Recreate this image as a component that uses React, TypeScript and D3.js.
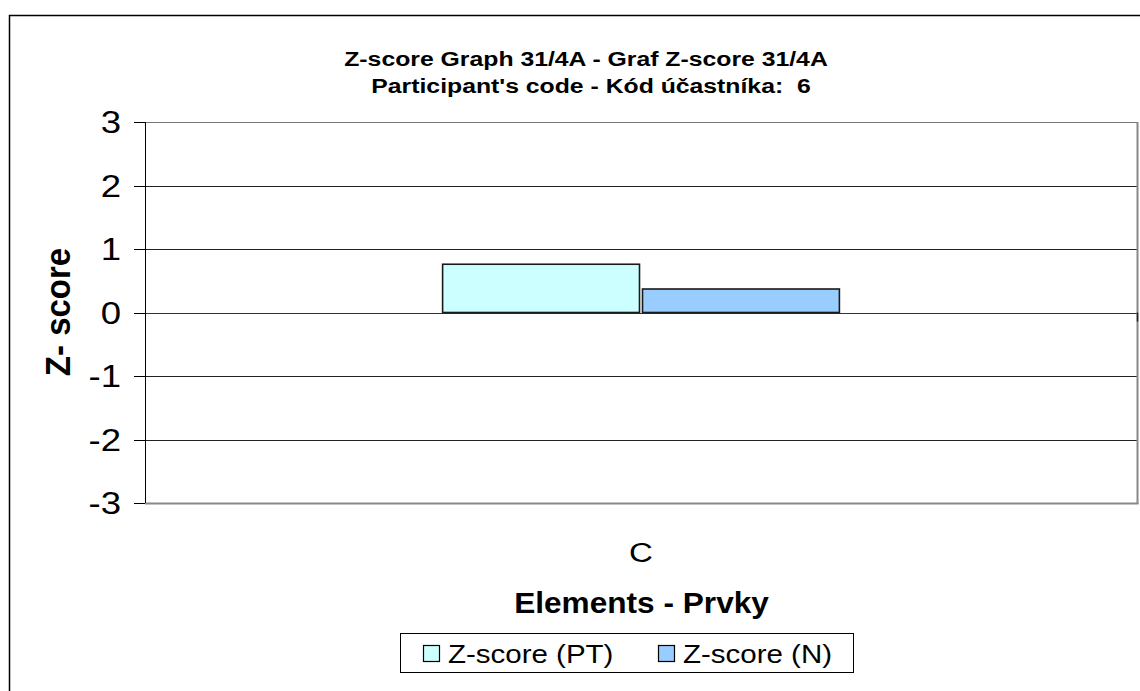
import React from "react";
import * as d3 from "d3";

const categories = ["C"];
const seriesNames = ["Z-score (PT)", "Z-score (N)"];
const valuesPT = [0.76];
const valuesN = [0.37];
const yTicks = [-3, -2, -1, 0, 1, 2, 3];
const seriesColors = ["#CCFFFF", "#99CCFF"];

const W = 1140;
const H = 691;
const plot = { left: 145, right: 1137, top: 122, bottom: 503 };
const FONT = "'Liberation Sans', Arial, sans-serif";
const SX = 1.18; // horizontal stretch of the text, as in the reference

function T(props: { x: number; y: number; size: number; bold?: boolean; anchor?: string; sx?: number; children: React.ReactNode }) {
  const { x, y, size, bold, anchor = "start", sx = SX, children } = props;
  return (
    <text transform={`translate(${x},${y}) scale(${sx},1)`} fontSize={size} fontWeight={bold ? "bold" : "normal"} textAnchor={anchor} style={{ whiteSpace: "pre" }}>
      {children}
    </text>
  );
}

export default function App() {
  const y = d3.scaleLinear().domain([-3, 3]).range([plot.bottom, plot.top]);
  const x0 = d3.scaleBand().domain(categories).range([plot.left, plot.right]).padding(0);
  // Excel gap width ~300%
  const gapWidth = 3.0;
  const groupW = (x0.bandwidth() * 2) / (2 + gapWidth);
  const x1 = d3.scaleBand().domain(seriesNames).range([0, groupW]).paddingInner(0.015);
  const data = [valuesPT, valuesN];

  return (
    <svg width={W} height={H} style={{ position: "absolute", left: 0, top: 0, background: "#fff" }} fontFamily={FONT}>
      {/* outer chart border */}
      <path d={`M9.5,${H} V15.5 H${W}`} fill="none" stroke="#000" strokeWidth={1.5} />

      {/* titles */}
      <T x={586} y={66} size={21} bold anchor="middle">Z-score Graph 31/4A - Graf Z-score 31/4A</T>
      <T x={591} y={93} size={21} bold anchor="middle">{"Participant's code - Kód účastníka:  6"}</T>

      {/* gridlines */}
      {yTicks.map((t) => (
        <line key={"g" + t} x1={plot.left} x2={plot.right} y1={Math.round(y(t)) + 0.5} y2={Math.round(y(t)) + 0.5} stroke={t === 0 ? "#333" : "#222"} strokeWidth={1} />
      ))}

      {/* plot area border (gray) */}
      <line x1={plot.right + 0.5} x2={plot.right + 0.5} y1={plot.top} y2={plot.bottom + 1} stroke="#888" strokeWidth={2} />
      <line x1={plot.left} x2={plot.right + 1.5} y1={plot.bottom + 0.5} y2={plot.bottom + 0.5} stroke="#888" strokeWidth={2} />
      <line x1={plot.left} x2={plot.right} y1={plot.top + 0.5} y2={plot.top + 0.5} stroke="#777" strokeWidth={1} />

      {/* bars */}
      {categories.map((c, ci) => {
        const gx = (x0(c) as number) + (x0.bandwidth() - groupW) / 2;
        return seriesNames.map((s, si) => {
          const v = data[si][ci];
          const yt = y(Math.max(0, v));
          const yb = y(Math.min(0, v));
          return (
            <rect key={c + s} x={gx + (x1(s) as number)} y={yt} width={x1.bandwidth()} height={yb - yt} fill={seriesColors[si]} stroke="#1a1a1a" strokeWidth={1.6} />
          );
        });
      })}

      {/* y axis */}
      <line x1={plot.left + 0.5} x2={plot.left + 0.5} y1={plot.top} y2={plot.bottom} stroke="#000" strokeWidth={1} />
      {yTicks.map((t) => (
        <g key={"t" + t}>
          <line x1={plot.left - 11} x2={plot.left} y1={Math.round(y(t)) + 0.5} y2={Math.round(y(t)) + 0.5} stroke="#000" />
          <T x={121} y={y(t) + 11} size={31} anchor="end">{String(t)}</T>
        </g>
      ))}
      {/* category axis end tick */}
      <line x1={plot.right + 0.5} x2={plot.right + 0.5} y1={y(0)} y2={y(0) + 9} stroke="#222" strokeWidth={1.5} />

      {/* category labels */}
      {categories.map((c) => (
        <T key={c} x={(x0(c) as number) + x0.bandwidth() / 2} y={562} size={28} anchor="middle">{c}</T>
      ))}

      {/* axis titles */}
      <T x={641.5} y={613} size={29} bold anchor="middle" sx={1.09}>Elements - Prvky</T>
      <text transform={`translate(70,312) rotate(-90) scale(1.1,1.16)`} textAnchor="middle" fontSize={30} fontWeight="bold">
        Z- score
      </text>

      {/* legend */}
      <rect x={400.5} y={633.5} width={453} height={39} fill="#fff" stroke="#000" strokeWidth={1} />
      {seriesNames.map((s, i) => {
        const sx = [423, 658][i];
        return (
          <g key={"l" + s}>
            <rect x={sx + 0.5} y={645.5} width={16} height={16} fill={seriesColors[i]} stroke="#000" strokeWidth={1.2} />
            <T x={sx + 25} y={663} size={25}>{s}</T>
          </g>
        );
      })}
    </svg>
  );
}
